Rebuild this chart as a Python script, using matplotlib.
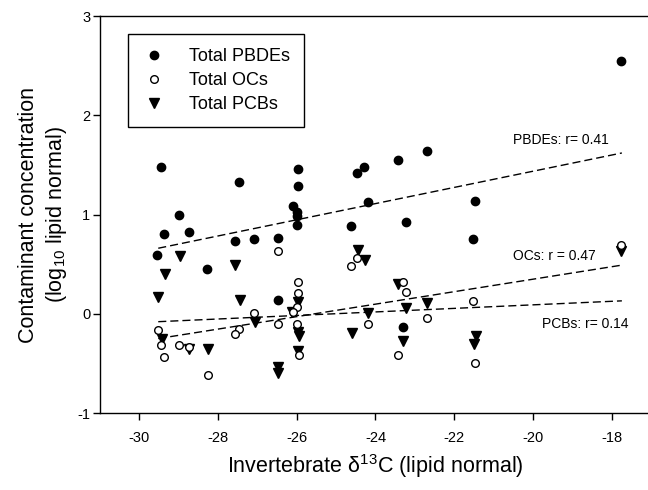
import matplotlib
matplotlib.use('Agg')
import matplotlib.pyplot as plt

plt.rcParams['font.family'] = ['Liberation Sans', 'DejaVu Sans']
plt.rcParams['mathtext.fontset'] = 'custom'
plt.rcParams['mathtext.rm'] = 'Liberation Sans'
plt.rcParams['mathtext.default'] = 'regular'
plt.rcParams['axes.unicode_minus'] = False

# total PBDEs (filled circles)
pbde_x = [-29.45, -27.47, -28.99, -29.37, -28.75, -29.54, -27.58, -27.08, -26.48, -25.96,
          -25.97, -26.09, -26.00, -26.00, -26.00, -24.63, -24.46, -24.29, -24.19, -28.27,
          -23.42, -22.69, -21.46, -23.23, -21.51, -17.76, -26.48, -23.30]
pbde_y = [1.48, 1.33, 0.99, 0.80, 0.82, 0.59, 0.73, 0.75, 0.76, 1.46,
          1.29, 1.09, 1.03, 0.98, 0.89, 0.88, 1.42, 1.48, 1.13, 0.45,
          1.55, 1.64, 1.14, 0.92, 0.75, 2.55, 0.14, -0.13]

# total OCs (open circles)
oc_x = [-26.48, -24.47, -24.63, -25.97, -25.97, -26.00, -26.00, -25.95, -27.08, -26.48,
        -27.46, -27.58, -29.53, -29.44, -28.99, -28.75, -29.37, -28.26, -24.19, -23.30,
        -23.22, -22.69, -23.42, -21.51, -21.46, -17.76, -26.09]
oc_y = [0.63, 0.56, 0.48, 0.32, 0.21, 0.07, -0.10, -0.42, 0.01, -0.10,
        -0.15, -0.20, -0.16, -0.31, -0.31, -0.34, -0.44, -0.62, -0.10, 0.32,
        0.22, -0.04, -0.42, 0.13, -0.50, 0.69, 0.02]

# total PCBs (filled triangles)
pcb_x = [-28.98, -27.57, -24.45, -24.26, -29.35, -29.52, -27.45, -25.97, -26.11, -27.06,
         -29.43, -28.75, -28.25, -25.97, -25.95, -25.97, -26.47, -26.47, -24.60, -24.18,
         -23.42, -23.22, -22.68, -23.30, -21.44, -21.49, -17.76]
pcb_y = [0.58, 0.49, 0.64, 0.54, 0.40, 0.17, 0.14, 0.12, 0.02, -0.08,
         -0.25, -0.36, -0.36, -0.18, -0.22, -0.38, -0.54, -0.60, -0.19, 0.01,
         0.30, 0.06, 0.11, -0.27, -0.22, -0.30, 0.63]

# regression lines (end points)
fit_x = [-29.52, -17.74]
pbde_fit = [0.66, 1.62]
oc_fit = [-0.25, 0.49]
pcb_fit = [-0.08, 0.13]

# r labels
labels = ['PBDEs: r= 0.41', 'OCs: r = 0.47', 'PCBs: r= 0.14']
label_x = [-20.50, -20.50, -19.76]
label_y = [1.75, 0.58, -0.10]

fig = plt.figure(figsize=(6.48, 4.90), dpi=100)
ax = fig.add_axes([100 / 648, 1 - 413 / 490, 551 / 648, 397 / 490])

# scatter points
ax.plot(pbde_x, pbde_y, 'o', color='black', markersize=6, label='Total PBDEs', zorder=3)
ax.plot(pcb_x, pcb_y, 'v', color='black', markersize=7, label='Total PCBs', zorder=3)
ax.plot(oc_x, oc_y, 'o', markerfacecolor='white', markeredgecolor='black',
        markersize=5.5, markeredgewidth=1, label='Total OCs', zorder=4)

# dashed fits
for fit in [pbde_fit, oc_fit, pcb_fit]:
    ax.plot(fit_x, fit, color='black', linewidth=1, dashes=(5.8, 2.9), zorder=2)

for text, tx, ty in zip(labels, label_x, label_y):
    ax.text(tx, ty, text, fontsize=10, va='center', ha='left')

ax.set_xlim(-31, -17)
ax.set_ylim(-1, 3)
ax.set_xticks(range(-30, -17, 2))
ax.set_yticks(range(-1, 4))
ax.tick_params(axis='x', direction='out', length=5, width=1, labelsize=10.5, pad=8)
ax.tick_params(axis='y', direction='out', length=5, width=1, labelsize=10.5, pad=2)
for spine in ax.spines.values():
    spine.set_linewidth(1)

ax.set_xlabel('Invertebrate δ$^{13}$C (lipid normal)', fontsize=15.5, labelpad=5)
ax.set_ylabel('Contaminant concentration\n(log$_{10}$ lipid normal)', fontsize=15.5,
              labelpad=6, linespacing=1.25)

# legend order as in the original
handles, names = ax.get_legend_handles_labels()
order = [0, 2, 1]
leg = ax.legend([handles[i] for i in order], [names[i] for i in order],
                loc='upper left', bbox_to_anchor=(0.051, 0.955), borderaxespad=0,
                fontsize=13, fancybox=False, framealpha=1, edgecolor='black',
                borderpad=0.8, labelspacing=0.38, handlelength=1.3, handletextpad=1.25)
leg.get_frame().set_linewidth(1)

fig.savefig('out.png', dpi=100)
